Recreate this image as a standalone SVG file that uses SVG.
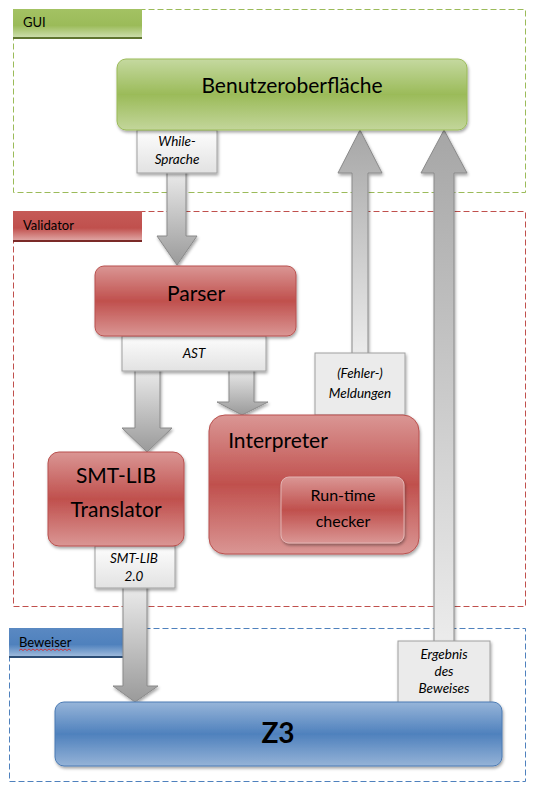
<svg xmlns="http://www.w3.org/2000/svg" width="536" height="795" viewBox="0 0 536 795">
<defs>
<linearGradient id="gGreen" x1="0" y1="0" x2="0" y2="1"><stop offset="0" stop-color="#c5d9a0"/><stop offset="0.5" stop-color="#9bbb59"/><stop offset="1" stop-color="#c3d69b"/></linearGradient>
<linearGradient id="gRed" x1="0" y1="0" x2="0" y2="1"><stop offset="0" stop-color="#da9694"/><stop offset="0.5" stop-color="#c0504d"/><stop offset="1" stop-color="#da9694"/></linearGradient>
<linearGradient id="gBlue" x1="0" y1="0" x2="0" y2="1"><stop offset="0" stop-color="#97b5d9"/><stop offset="0.5" stop-color="#4f81bd"/><stop offset="1" stop-color="#95b3d7"/></linearGradient>
<linearGradient id="lGreen" x1="0" y1="0" x2="0" y2="1"><stop offset="0" stop-color="#a3c263"/><stop offset="0.55" stop-color="#9bbb59"/><stop offset="0.92" stop-color="#c9dca7"/><stop offset="1" stop-color="#c9dca7"/></linearGradient>
<linearGradient id="lRed" x1="0" y1="0" x2="0" y2="1"><stop offset="0" stop-color="#c55a57"/><stop offset="0.55" stop-color="#c0504d"/><stop offset="0.92" stop-color="#dda09e"/><stop offset="1" stop-color="#dda09e"/></linearGradient>
<linearGradient id="lBlue" x1="0" y1="0" x2="0" y2="1"><stop offset="0" stop-color="#5a89c2"/><stop offset="0.55" stop-color="#4f81bd"/><stop offset="0.92" stop-color="#9ab7da"/><stop offset="1" stop-color="#9ab7da"/></linearGradient>
<linearGradient id="gDown" x1="0" y1="0" x2="0" y2="1"><stop offset="0" stop-color="#ececec"/><stop offset="1" stop-color="#9a9a9a"/></linearGradient>
<linearGradient id="gUp" x1="0" y1="0" x2="0" y2="1"><stop offset="0" stop-color="#a6a6a6"/><stop offset="1" stop-color="#ececec"/></linearGradient>
<linearGradient id="gBox" x1="0" y1="0" x2="0" y2="1"><stop offset="0" stop-color="#fdfdfd"/><stop offset="1" stop-color="#e2e2e2"/></linearGradient>
<filter id="sh" x="-10%" y="-10%" width="130%" height="140%"><feDropShadow dx="1" dy="2" stdDeviation="1.5" flood-color="#000" flood-opacity="0.35"/></filter>
</defs>
<style>
.box{filter:url(#sh);stroke-width:1}
.gui{fill:url(#gGreen);stroke:#9bbb59}
.red{fill:url(#gRed);stroke:#b9514e}
.blue{fill:url(#gBlue);stroke:#4a7ab4}
.cont{fill:none;stroke-width:1;stroke-dasharray:6,3}
.t{font-family:Lato,"Open Sans",sans-serif;fill:#000;text-anchor:middle}
.lbl{font-family:Lato,"Open Sans",sans-serif;font-size:13px;fill:#000}
.it{font-family:Lato,"Open Sans",sans-serif;font-style:italic;font-size:13.5px;fill:#000;text-anchor:middle}
.arr{stroke:#8a8a8a;stroke-width:1;filter:url(#sh)}
.cb{stroke:#a0a0a0;stroke-width:1;filter:url(#sh)}
</style>

<g id="containers">
<g id="gui-container">
<rect class="cont" x="13.5" y="9.5" width="512" height="183" stroke="#9bbb59"/>
<rect x="13" y="9" width="129" height="30" fill="url(#lGreen)"/>
<rect x="13" y="37" width="129" height="2" fill="#5f7530"/>
<text class="lbl" x="23" y="27">GUI</text>
</g>
<g id="validator-container">
<rect class="cont" x="13.5" y="211.5" width="512" height="395" stroke="#c0504d"/>
<rect x="13" y="211" width="129" height="31" fill="url(#lRed)"/>
<rect x="13" y="240" width="129" height="2" fill="#7b2a28"/>
<text class="lbl" x="23" y="230">Validator</text>
</g>
<g id="beweiser-container">
<rect class="cont" x="9.5" y="628.5" width="516" height="153" stroke="#4f81bd"/>
<rect x="9" y="628" width="114" height="30" fill="url(#lBlue)"/>
<rect x="9" y="656" width="114" height="2" fill="#2c4d75"/>
<text class="lbl" x="19" y="647">Beweiser</text>
<path d="M19,650.5 l2,-1.5 l2,1.5 l2,-1.5 l2,1.5 l2,-1.5 l2,1.5 l2,-1.5 l2,1.5 l2,-1.5 l2,1.5 l2,-1.5 l2,1.5 l2,-1.5 l2,1.5 l2,-1.5 l2,1.5 l2,-1.5 l2,1.5 l2,-1.5 l2,1.5 l2,-1.5 l2,1.5 l2,-1.5 l2,1.5 l2,-1.5 l2,1.5" fill="none" stroke="#e02020" stroke-width="0.8"/>
</g>
</g>

<g id="connectors">
<g id="arrow-while">
<polygon class="arr" fill="url(#gDown)" points="167,170 186,170 186,236 197,236 177,265 157,236 167,236"/>
<rect class="cb" fill="url(#gBox)" x="137" y="130" width="80" height="43"/>
<text class="it" x="177" y="146">While-</text>
<text class="it" x="177" y="164">Sprache</text>
</g>
<g id="arrow-ast">
<polygon class="arr" fill="url(#gDown)" points="135,368 160,368 160,428 172,428 147,452 122,428 135,428"/>
<polygon class="arr" fill="url(#gDown)" points="229,368 254,368 254,402 268,402 242,415 217,402 229,402"/>
<rect class="cb" fill="url(#gBox)" x="122" y="336" width="144" height="35"/>
<text class="it" x="194" y="358">AST</text>
</g>
<g id="arrow-smt">
<polygon class="arr" fill="url(#gDown)" points="123,585 147,585 147,686 158,686 135,702 113,686 123,686"/>
<rect class="cb" fill="url(#gBox)" x="95" y="546" width="80" height="42"/>
<text class="it" x="134" y="563">SMT-LIB</text>
<text class="it" x="134" y="581">2.0</text>
</g>
<g id="arrow-fehler">
<polygon class="arr" fill="url(#gUp)" points="352,356 368,356 368,173 382,173 360,130 338,173 352,173"/>
<rect class="cb" fill="#ebebeb" x="315" y="353" width="90" height="62"/>
<text class="it" x="360" y="378">(Fehler-)</text>
<text class="it" x="360" y="398">Meldungen</text>
</g>
<g id="arrow-ergebnis">
<polygon class="arr" fill="url(#gUp)" points="434,644 454,644 454,173 467,173 444,130 421,173 434,173"/>
<rect class="cb" fill="#ebebeb" x="398" y="641" width="92" height="62"/>
<text class="it" x="444" y="659">Ergebnis</text>
<text class="it" x="444" y="676">des</text>
<text class="it" x="444" y="693">Beweises</text>
</g>
</g>

<g id="benutzeroberflaeche">
<rect class="box gui" x="117" y="59" width="350" height="71" rx="9"/>
<text class="t" x="292" y="93" font-size="21">Benutzeroberfläche</text>
</g>
<g id="parser">
<rect class="box red" x="95" y="266" width="201" height="70" rx="9"/>
<text class="t" x="196" y="301" font-size="21">Parser</text>
</g>
<g id="translator">
<rect class="box red" x="48" y="452" width="136" height="94" rx="11"/>
<text class="t" x="116" y="483" font-size="21">SMT-LIB</text>
<text class="t" x="116" y="517" font-size="21">Translator</text>
</g>
<g id="interpreter">
<rect class="box red" x="209" y="415" width="210" height="139" rx="16"/>
<text class="t" x="278" y="448" font-size="21">Interpreter</text>
</g>
<g id="runtime-checker">
<rect x="281" y="477" width="123" height="66" rx="8" fill="url(#gRed)" stroke="#e2b3b2" stroke-width="1" style="filter:url(#sh)"/>
<text class="t" x="343" y="501" font-size="16">Run-time</text>
<text class="t" x="343" y="527" font-size="16">checker</text>
</g>
<g id="z3">
<rect class="box blue" x="55" y="702" width="447" height="64" rx="9"/>
<text class="t" x="278" y="743" font-size="28" font-weight="bold">Z3</text>
</g>
</svg>
